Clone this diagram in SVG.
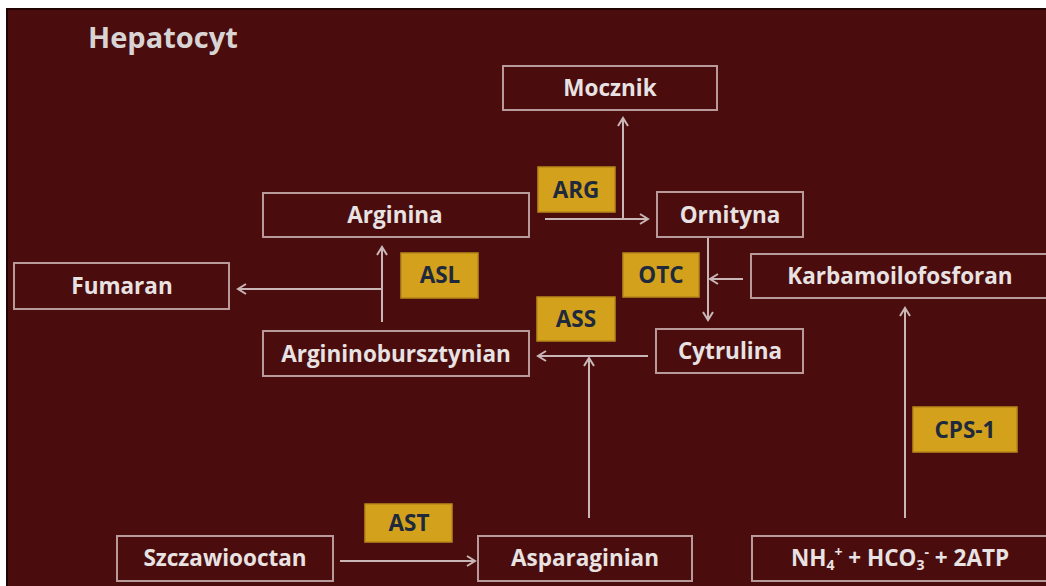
<svg xmlns="http://www.w3.org/2000/svg" width="1046" height="586" viewBox="0 0 1046 586">
<defs>
<style>
.node rect{fill:none;stroke:#b89a9a;stroke-width:2}
.node text{font-family:"Open Sans","Liberation Sans",sans-serif;font-weight:bold;font-size:22.5px;fill:#e8e2e2;text-anchor:middle}
.enz rect{fill:#d4a11c;stroke:#b8891a;stroke-width:1.5}
.enz text{font-family:"Open Sans","Liberation Sans",sans-serif;font-weight:bold;font-size:22.5px;fill:#1e2a3c;text-anchor:middle}
.conn line{stroke:#c9b6b6;stroke-width:2;fill:none;marker-end:url(#arr)}
</style>
<marker id="arr" markerUnits="userSpaceOnUse" markerWidth="14" markerHeight="14" viewBox="-10 -7 12 14" refX="0" refY="0" orient="auto">
<path d="M -8 -5 L 0 0 L -8 5" fill="none" stroke="#c9b6b6" stroke-width="2"/>
</marker>
</defs>
<rect x="0" y="0" width="1046" height="586" fill="#ffffff"/>
<rect x="7" y="9" width="1046" height="586" fill="#4a0c0d" stroke="#220405" stroke-width="2"/>
<text x="88" y="48" font-family="'Open Sans','Liberation Sans',sans-serif" font-weight="bold" font-size="29" fill="#d9d4d4">Hepatocyt</text>

<g class="conn" id="connectors">
<line x1="545" y1="219" x2="648" y2="219"/>
<line x1="623" y1="219" x2="623" y2="118"/>
<line x1="708" y1="237" x2="708" y2="320"/>
<line x1="743" y1="279" x2="710" y2="279"/>
<line x1="648" y1="356" x2="538" y2="356"/>
<line x1="589" y1="518" x2="589" y2="358"/>
<line x1="382" y1="322" x2="382" y2="247"/>
<line x1="382" y1="289" x2="238" y2="289"/>
<line x1="340" y1="561" x2="475" y2="561"/>
<line x1="905" y1="518" x2="905" y2="308"/>
</g>

<g class="node" id="mocznik"><rect x="503" y="66" width="214" height="44"/><text x="610" y="96">Mocznik</text></g>
<g class="node" id="arginina"><rect x="263" y="193" width="266" height="44"/><text x="395" y="223">Arginina</text></g>
<g class="node" id="ornityna"><rect x="657" y="192" width="146" height="45"/><text x="730" y="223">Ornityna</text></g>
<g class="node" id="fumaran"><rect x="14" y="263" width="215" height="46"/><text x="122" y="294">Fumaran</text></g>
<g class="node" id="karbamoilofosforan"><rect x="751" y="254" width="300" height="44"/><text x="900" y="284">Karbamoilofosforan</text></g>
<g class="node" id="argininobursztynian"><rect x="263" y="331" width="266" height="45"/><text x="396" y="362">Argininobursztynian</text></g>
<g class="node" id="cytrulina"><rect x="656" y="329" width="147" height="44"/><text x="730" y="359">Cytrulina</text></g>
<g class="node" id="szczawiooctan"><rect x="117" y="536" width="216" height="45"/><text x="225" y="566">Szczawiooctan</text></g>
<g class="node" id="asparaginian"><rect x="478" y="536" width="214" height="45"/><text x="585" y="566">Asparaginian</text></g>
<g class="node" id="substraty"><rect x="752" y="536" width="300" height="45"/><text x="900" y="566">NH<tspan font-size="14" dy="4">4</tspan><tspan font-size="14" dy="-13">+</tspan><tspan dy="9"> + HCO</tspan><tspan font-size="14" dy="4">3</tspan><tspan font-size="14" dy="-13">-</tspan><tspan dy="9"> + 2ATP</tspan></text></g>

<g class="enz" id="arg"><rect x="538" y="167" width="77" height="45"/><text x="576" y="198">ARG</text></g>
<g class="enz" id="asl"><rect x="401" y="253" width="77" height="45"/><text x="440" y="283">ASL</text></g>
<g class="enz" id="otc"><rect x="623" y="253" width="76" height="44"/><text x="661" y="283">OTC</text></g>
<g class="enz" id="ass"><rect x="537" y="297" width="78" height="44"/><text x="576" y="327">ASS</text></g>
<g class="enz" id="ast"><rect x="365" y="504" width="87" height="38"/><text x="409" y="531">AST</text></g>
<g class="enz" id="cps1"><rect x="913" y="407" width="104" height="45"/><text x="965" y="438">CPS-1</text></g>
</svg>
